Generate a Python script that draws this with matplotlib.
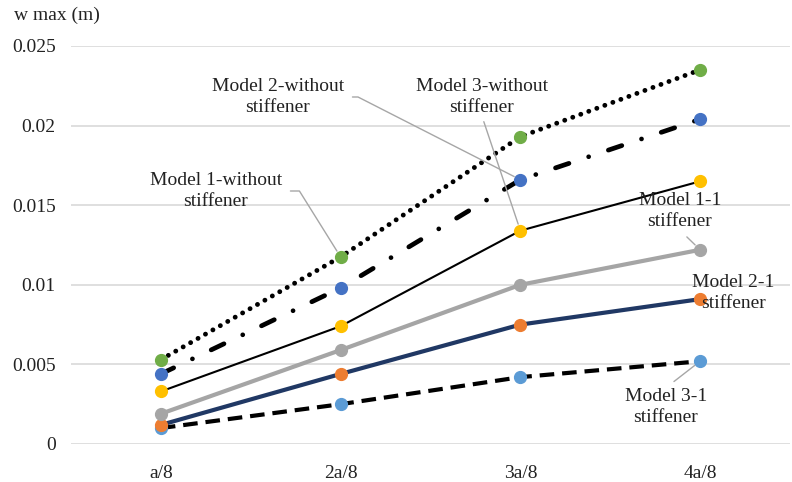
import matplotlib
matplotlib.use("Agg")
import matplotlib.pyplot as plt

categories = ["a/8", "2a/8", "3a/8", "4a/8"]
m1_without = [0.0053, 0.01175, 0.0193, 0.0235]
m2_without = [0.0044, 0.0098, 0.0166, 0.0204]
m3_without = [0.0033, 0.0074, 0.0134, 0.0165]
m1_one = [0.0019, 0.0059, 0.0100, 0.0122]
m2_one = [0.0012, 0.0044, 0.0075, 0.0091]
m3_one = [0.0010, 0.0025, 0.0042, 0.0052]
yticks = [0, 0.005, 0.01, 0.015, 0.02, 0.025]
ytick_labels = ["0", "0.005", "0.01", "0.015", "0.02", "0.025"]

plt.rcParams['font.family'] = ['Liberation Serif', 'DejaVu Serif']
W, H = 792, 482
fig = plt.figure(figsize=(W/100, H/100), dpi=100)
ax = fig.add_axes([71/W, 38/H, (790-71)/W, (444-46)/H])

x = list(range(len(categories)))
ms = 8.5
txtc = '#222222'

DOT = (0, (0.01, 1.75))
DASHDOT = (0, (3.0, 4.4, 0.01, 4.4))
DASH = (0, (3.5, 1.9))
# series: (values, line color, lw, linestyle, cap, marker color)
series = [
    (m3_one, 'black', 3.0, DASH, 'butt', '#5b9bd5'),
    (m2_one, '#203864', 3.0, '-', 'butt', '#ed7d31'),
    (m1_one, '#a5a5a5', 3.0, '-', 'butt', '#a5a5a5'),
    (m3_without, 'black', 1.5, '-', 'butt', '#ffc000'),
    (m2_without, 'black', 3.4, DASHDOT, 'round', '#4472c4'),
    (m1_without, 'black', 3.5, DOT, 'round', '#70ad47'),
]
for vals, lc, lw, ls, cap, mc in series:
    ax.plot(x, vals, color=lc, lw=lw, linestyle=ls, solid_capstyle='butt',
            dash_capstyle=cap, zorder=3)
    ax.plot(x, vals, linestyle='none', marker='o', ms=ms, mfc=mc, mec=mc, zorder=4)

ax.set_xlim(-0.5, 3.5)
ax.set_ylim(0, 0.025)
ax.set_yticks(yticks)
ax.set_yticklabels(ytick_labels)
ax.set_xticks(x)
ax.set_xticklabels(categories)
ax.tick_params(axis='both', length=0, labelsize=14, colors=txtc)
ax.tick_params(axis='y', pad=11)
ax.tick_params(axis='x', pad=15)
ax.grid(axis='y', color='#d9d9d9', lw=1.2)
ax.set_axisbelow(True)
for s in ax.spines.values():
    s.set_visible(False)

fig.text(57/W, 1 - 15/H, "w max (m)", ha='center', va='center', fontsize=14, color=txtc)

def fp(px, py):
    return (px / W, 1 - py / H)

lead = dict(arrowstyle='-', color='#a6a6a6', lw=1.0)

def note(text, xi, yv, tx, ty, relpos=(0.5, 0.5), conn="arc3", sA=2, sB=5, arrow=True):
    props = dict(lead, relpos=relpos, connectionstyle=conn, shrinkA=sA, shrinkB=sB) if arrow else None
    ax.annotate(text, xy=(xi, yv), xycoords='data', xytext=fp(tx, ty), textcoords='figure fraction',
                ha='center', va='center', fontsize=14, color=txtc, linespacing=1.35,
                arrowprops=props, zorder=5)

note("Model 1-without\nstiffener", 1, m1_without[1], 216, 191, relpos=(1, 0.5),
     conn="angle,angleA=0,angleB=122,rad=0", sA=4)
note("Model 2-without\nstiffener", 2, m2_without[2], 278, 97, relpos=(1, 0.5),
     conn="angle,angleA=0,angleB=153,rad=0", sA=4)
note("Model 3-without\nstiffener", 2, m3_without[2], 482, 97, relpos=(0.5, 0.0), sA=2)
note("Model 1-1\nstiffener", 3, m1_one[3], 680, 211, relpos=(0.5, 0.0), sA=4)
note("Model 2-1\nstiffener", 3, m2_one[3], 733, 293, arrow=False)
note("Model 3-1\nstiffener", 3, m3_one[3], 666, 407, relpos=(0.5, 1.0), sA=4)

fig.savefig("out.png", dpi=100)
